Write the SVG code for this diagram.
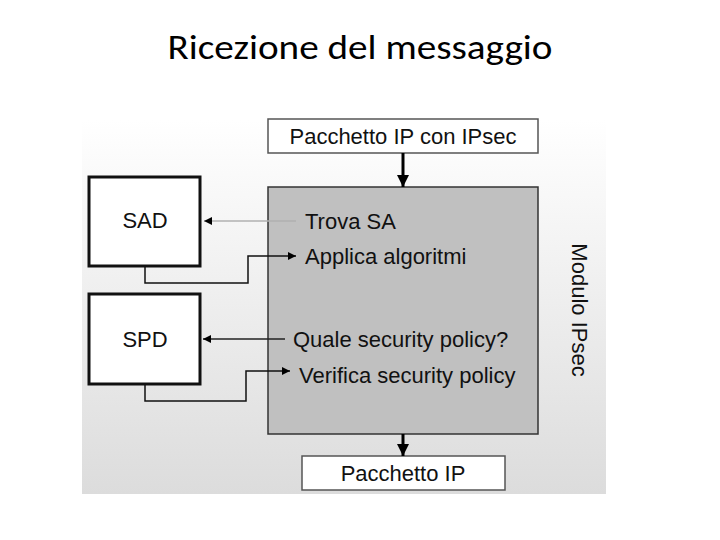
<svg xmlns="http://www.w3.org/2000/svg" width="720" height="540" viewBox="0 0 720 540">
  <defs>
    <linearGradient id="bg" x1="0" y1="0" x2="0" y2="1">
      <stop offset="0" stop-color="#ffffff"/>
      <stop offset="1" stop-color="#dcdcdc"/>
    </linearGradient>
    <marker id="ah" viewBox="0 0 10 10" refX="10" refY="5" markerWidth="10" markerHeight="8" markerUnits="userSpaceOnUse" orient="auto">
      <path d="M0,0 L10,5 L0,10 Z" fill="#000"/>
    </marker>
    <marker id="ahBig" viewBox="0 0 10 10" refX="10" refY="5" markerWidth="12" markerHeight="13" markerUnits="userSpaceOnUse" orient="auto">
      <path d="M0,0 L10,5 L0,10 Z" fill="#000"/>
    </marker>
  </defs>
  <style>
    .lbl { font-family: "Liberation Sans", Arial, sans-serif; font-size: 22px; fill: #111; }
    .box { fill: #fff; stroke: #555; stroke-width: 1.5; }
    .db { fill: #fff; stroke: #111; stroke-width: 3; }
    .wire { fill: none; stroke: #111; stroke-width: 1.5; }
  </style>
  <rect width="720" height="540" fill="#fff"/>
  <text x="360" y="59" text-anchor="middle" font-family="Carlito, 'Open Sans', 'Noto Sans', sans-serif" font-size="35" textLength="385" lengthAdjust="spacingAndGlyphs" fill="#000">Ricezione del messaggio</text>

  <rect x="82" y="120" width="524" height="374" fill="url(#bg)"/>

  <g id="modulo">
    <rect x="268" y="187" width="270" height="247" fill="#c0c0c0" stroke="#333" stroke-width="1.5"/>
    <text class="lbl" x="305" y="229">Trova SA</text>
    <text class="lbl" x="305" y="264">Applica algoritmi</text>
    <text class="lbl" x="293" y="347">Quale security policy?</text>
    <text class="lbl" x="299" y="383">Verifica security policy</text>
    <text class="lbl" transform="translate(572,310) rotate(90)" text-anchor="middle">Modulo IPsec</text>
  </g>

  <g id="in">
    <rect class="box" x="268" y="119" width="270" height="34"/>
    <text class="lbl" x="403" y="144" text-anchor="middle">Pacchetto IP con IPsec</text>
  </g>

  <g id="out">
    <rect class="box" x="302" y="456" width="203" height="34"/>
    <text class="lbl" x="403" y="481" text-anchor="middle">Pacchetto IP</text>
  </g>

  <g id="sad">
    <rect class="db" x="89" y="177" width="111" height="89"/>
    <text class="lbl" x="145" y="228" text-anchor="middle">SAD</text>
  </g>

  <g id="spd">
    <rect class="db" x="89" y="294" width="111" height="90"/>
    <text class="lbl" x="145" y="347" text-anchor="middle">SPD</text>
  </g>

  <g id="connectors">
    <line x1="403" y1="153" x2="403" y2="187" stroke="#000" stroke-width="3" marker-end="url(#ahBig)"/>
    <line x1="403" y1="434" x2="403" y2="456" stroke="#000" stroke-width="3" marker-end="url(#ahBig)"/>
    <line x1="296" y1="221" x2="204" y2="221" stroke="#b0b0b0" stroke-width="1.5" marker-end="url(#ah)"/>
    <polyline class="wire" points="145,266 145,283 248,283 248,256 296,256" marker-end="url(#ah)"/>
    <line x1="285" y1="339" x2="203" y2="339" stroke="#222" stroke-width="1.5" marker-end="url(#ah)"/>
    <polyline class="wire" points="145,384 145,401 246,401 246,371 290,371" marker-end="url(#ah)"/>
  </g>
</svg>
